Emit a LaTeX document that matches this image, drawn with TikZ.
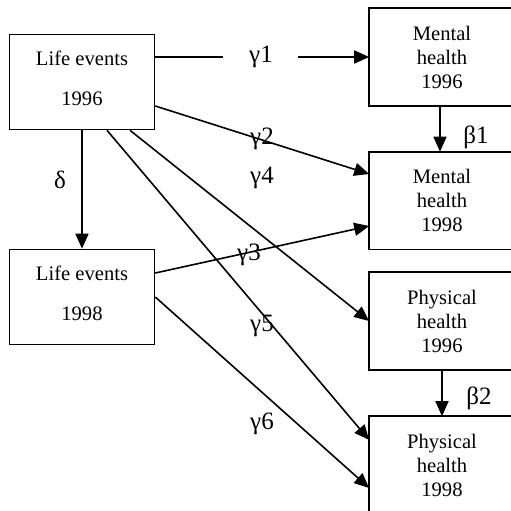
\documentclass[tikz,border=0pt]{standalone}
\usepackage{fontspec}
\setmainfont{Liberation Serif}
\usetikzlibrary{arrows.meta}

\tikzset{
  box/.style={draw, line width=0.8pt, minimum width=72.5pt, minimum height=47.5pt, align=center, font=\fontsize{10.3}{12}\selectfont, inner sep=0pt},
  rbox/.style={box, draw=none, minimum width=72pt, minimum height=48pt},
  frame/.style={line width=0.8pt},
  arr/.style={-{Triangle[length=7.5pt,width=6.5pt]}, line width=0.8pt},
  coef/.style={font=\fontsize{12.5}{14}\selectfont, inner sep=1pt}
}

\begin{document}
\begin{tikzpicture}[x=0.5pt, y=-0.5pt]

        \useasboundingbox (0,0) rectangle (511,511);

        % ------------------ Boxes ------------------

        % Life events
        \node[box, text depth=4pt] (le96) at (82,82) {Life events\\[8pt]1996};
        \node[box, text depth=4pt] (le98) at (82,297) {Life events\\[8pt]1998};

        % Mental health
        \node[rbox] (mh96) at (442,57) {Mental\\health\\1996};
        \node[rbox] (mh98) at (442,200.5) {Mental\\health\\1998};

        % Physical health
        \node[rbox] (ph96) at (442,321) {Physical\\health\\1996};
        \node[rbox] (ph98) at (442,465) {Physical\\health\\1998};

        % frames run past the right edge (and the bottom one past the bottom)
        \foreach \n in {mh96, mh98, ph96}
          \draw[frame] (\n.north west) rectangle ([xshift=10pt]\n.south east);
        \draw[frame] (ph98.north west) rectangle ([xshift=10pt, yshift=-10pt]ph98.south east);

        % ------------------ Arrows ------------------

        \draw[arr] ([yshift=12.5pt]le96.east) -- (mh96.west);
        \draw[arr] ([yshift=-12pt]le96.east) -- ([yshift=13.25pt]mh98.west);
        \draw[arr] ([xshift=24pt]le96.south) -- (ph96.west);
        \draw[arr] ([xshift=12.5pt]le96.south) -- ([yshift=12.5pt]ph98.west);
        \draw[arr] (le96.south) -- (le98.north);
        \draw[arr] ([yshift=12pt]le98.east) -- ([yshift=-12.75pt]mh98.west);
        \draw[arr] (le98.east) -- ([yshift=-11.5pt]ph98.west);
        \draw[arr] ([xshift=-1pt]mh96.south) -- ([xshift=-1pt]mh98.north);
        \draw[arr] (ph96.south) -- (ph98.north);

        % Coefficients
        \node[coef, fill=white, minimum width=37.5pt] (g1) at (261,57) {γ1};
        \node[coef] (g2) at (262,139) {γ2};
        \node[coef] (g4) at (262,178) {γ4};
        \node[coef] (g3) at (249,255) {γ3};
        \node[coef] (g5) at (262,326) {γ5};
        \node[coef] (g6) at (262,424) {γ6};
        \node[coef] (d) at (60,180) {δ};
        \node[coef] (b1) at (476,137) {β1};
        \node[coef] (b2) at (479,398) {β2};

    \end{tikzpicture}
\end{document}
